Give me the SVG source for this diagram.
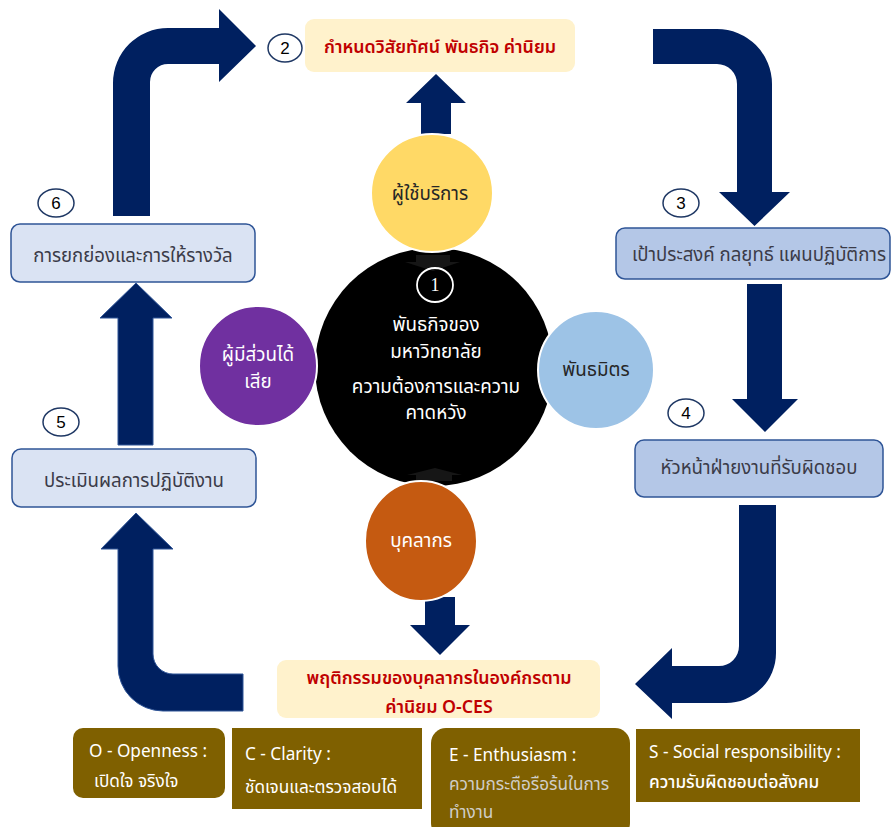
<svg xmlns="http://www.w3.org/2000/svg" width="892" height="827" viewBox="0 0 892 827">
  <defs>
    <style>
      text { font-family: "Noto Sans Thai", "Noto Sans", Tahoma, "DejaVu Sans", sans-serif; text-anchor: middle; dominant-baseline: central; }
      .arrow { fill: #002060; }
      .arrow-edge { fill: #002060; stroke: #2F5597; stroke-width: 1; }
      .step { fill: #FFFFFF; stroke: #1F3864; stroke-width: 1.5; }
      .step-num { font-family: "Liberation Sans", Arial, sans-serif; font-size: 17px; fill: #000; }
      .box-light { fill: #DAE3F3; stroke: #2F5597; stroke-width: 1.5; }
      .box-mid { fill: #B4C7E7; stroke: #2F5597; stroke-width: 1.5; }
      .box-cream { fill: #FFF2CC; }
      .box-label { font-size: 18.6px; fill: #3B3B48; }
      .red-label { font-size: 17.8px; fill: #C00000; font-weight: 600; }
      .circle { stroke: #FFFFFF; stroke-width: 2; }
      .circle-label { font-size: 18.8px; }
      .olive { fill: #7F6000; }
      .olive-label { font-size: 17.2px; fill: #FFFFFF; text-anchor: start; }
      .olive-soft { font-size: 17.2px; fill: #D0CEC8; text-anchor: start; }
    </style>
  </defs>

  <!-- connectors -->
  <g id="connectors">
    <!-- 6 -> 2 bent arrow -->
    <path class="arrow" d="M113,216 V83 A55,55 0 0 1 168,28 H219 V9 L256,46 L219,82 V64 H168 A18,18 0 0 0 150,82 V216 Z"/>
    <!-- 2 -> 3 bent arrow -->
    <path class="arrow" d="M653,29 H717 A55,55 0 0 1 772,84 V192 H790 L754.5,226 L719,192 H737 V84 A20,20 0 0 0 717,64 H653 Z"/>
    <!-- 3 -> 4 -->
    <path class="arrow" d="M747,284 H782 V399 H798 L765,432 L732,399 H747 Z"/>
    <!-- 4 -> behaviour bent arrow -->
    <path class="arrow" d="M739,505 H776 V653 A50,50 0 0 1 726,703 H672 V719 L635,684 L672,648 V666 H719 A20,20 0 0 0 739,646 Z"/>
    <!-- behaviour -> 5 bent arrow -->
    <path class="arrow-edge" d="M243,674 H173 A20,20 0 0 1 153,654 V549 H173 L136,513 L101,549 H118 V666 A45,45 0 0 0 163,711 H243 Z"/>
    <!-- 5 -> 6 -->
    <path class="arrow-edge" d="M118,445 V318 H100 L136,283 L172,318 H153 V445 Z"/>
    <!-- customers -> 2 -->
    <path class="arrow" d="M421,134 V103 H406 L436,74 L466,103 H451 V134 Z"/>
    <!-- staff -> behaviour -->
    <path class="arrow" d="M425,597 V625 H410 L440,655 L470,625 H455 V597 Z"/>
  </g>

  <!-- centre: university mission -->
  <g id="node-1">
    <circle cx="434" cy="367" r="119" fill="#000000"/>
    <path d="M416,255 H450 V262 H460 L433,271 L405,262 H416 Z" fill="#161616"/>
    <path d="M416,481 V475 H407 L435,468 L462,475 H452 V481 Z" fill="#161616"/>
    <ellipse cx="435" cy="285" rx="18" ry="17" fill="none" stroke="#FFFFFF" stroke-width="1.8"/>
    <text x="435" y="285" style="font-family: 'Liberation Serif', serif; font-size: 18px; fill: #FFFFFF;">1</text>
    <text class="circle-label" x="436" y="325" style="fill: #FFFFFF;">พันธกิจของ</text>
    <text class="circle-label" x="436" y="352" style="fill: #FFFFFF;">มหาวิทยาลัย</text>
    <text class="circle-label" x="436" y="387" style="fill: #FFFFFF;">ความต้องการและความ</text>
    <text class="circle-label" x="436" y="413" style="fill: #FFFFFF;">คาดหวัง</text>
  </g>

  <g id="node-customers">
    <ellipse class="circle" cx="432" cy="193" rx="61" ry="59" fill="#FFD966"/>
    <text class="circle-label" x="430" y="194" style="fill: #262626;">ผู้ใช้บริการ</text>
  </g>

  <g id="node-stakeholders">
    <ellipse class="circle" cx="258" cy="366" rx="59" ry="60" fill="#7030A0"/>
    <text class="circle-label" x="258" y="355" style="fill: #FFFFFF;">ผู้มีส่วนได้</text>
    <text class="circle-label" x="258" y="382" style="fill: #FFFFFF;">เสีย</text>
  </g>

  <g id="node-partners">
    <ellipse class="circle" cx="596" cy="370" rx="58" ry="59" fill="#9DC3E6"/>
    <text class="circle-label" x="596" y="370" style="fill: #262626;">พันธมิตร</text>
  </g>

  <g id="node-staff">
    <ellipse class="circle" cx="421" cy="541" rx="56" ry="60" fill="#C55A11"/>
    <text class="circle-label" x="421" y="541" style="fill: #FFFFFF;">บุคลากร</text>
  </g>

  <g id="node-2">
    <rect class="box-cream" x="305" y="19" width="270" height="53" rx="9"/>
    <ellipse class="step" cx="285" cy="48" rx="17" ry="14"/>
    <text class="step-num" x="285" y="48">2</text>
    <text class="red-label" x="440" y="47">กำหนดวิสัยทัศน์ พันธกิจ ค่านิยม</text>
  </g>

  <g id="node-3">
    <rect class="box-mid" x="616" y="228" width="274" height="51" rx="9"/>
    <ellipse class="step" cx="681" cy="203" rx="18" ry="14"/>
    <text class="step-num" x="681" y="203">3</text>
    <text class="box-label" x="759" y="255">เป้าประสงค์ กลยุทธ์ แผนปฏิบัติการ</text>
  </g>

  <g id="node-4">
    <rect class="box-mid" x="635" y="440" width="248" height="57" rx="9"/>
    <ellipse class="step" cx="686" cy="413" rx="18" ry="14"/>
    <text class="step-num" x="686" y="413">4</text>
    <text class="box-label" x="759" y="468">หัวหน้าฝ่ายงานที่รับผิดชอบ</text>
  </g>

  <g id="node-behaviour">
    <rect class="box-cream" x="277" y="660" width="323" height="58" rx="9"/>
    <text class="red-label" x="439" y="678">พฤติกรรมของบุคลากรในองค์กรตาม</text>
    <text class="red-label" x="439" y="707">ค่านิยม O-CES</text>
  </g>

  <g id="node-5">
    <rect class="box-light" x="12" y="449" width="244" height="58" rx="9"/>
    <ellipse class="step" cx="61" cy="422" rx="18" ry="14"/>
    <text class="step-num" x="61" y="422">5</text>
    <text class="box-label" x="134" y="481">ประเมินผลการปฏิบัติงาน</text>
  </g>

  <g id="node-6">
    <rect class="box-light" x="11" y="224" width="244" height="58" rx="9"/>
    <ellipse class="step" cx="56" cy="203" rx="18" ry="14"/>
    <text class="step-num" x="56" y="203">6</text>
    <text class="box-label" x="133" y="256">การยกย่องและการให้รางวัล</text>
  </g>

  <!-- O-CES values -->
  <g id="value-o">
    <rect class="olive" x="73" y="728" width="152" height="70" rx="10"/>
    <text class="olive-label" x="89" y="752">O - Openness :</text>
    <text class="olive-label" x="94" y="782">เปิดใจ จริงใจ</text>
  </g>
  <g id="value-c">
    <rect class="olive" x="232" y="728" width="190" height="81"/>
    <text class="olive-label" x="245" y="755">C - Clarity :</text>
    <text class="olive-label" x="245" y="788">ชัดเจนและตรวจสอบได้</text>
  </g>
  <g id="value-e">
    <rect class="olive" x="431" y="728" width="199" height="110" rx="15"/>
    <text class="olive-label" x="449" y="756">E - Enthusiasm :</text>
    <text class="olive-soft" x="449" y="785">ความกระตือรือร้นในการ</text>
    <text class="olive-soft" x="449" y="813">ทำงาน</text>
  </g>
  <g id="value-s">
    <rect class="olive" x="636" y="729" width="224" height="73"/>
    <text class="olive-label" x="649" y="753">S - Social responsibility :</text>
    <text class="olive-label" x="649" y="783" style="font-weight: 500;">ความรับผิดชอบต่อสังคม</text>
  </g>
</svg>
